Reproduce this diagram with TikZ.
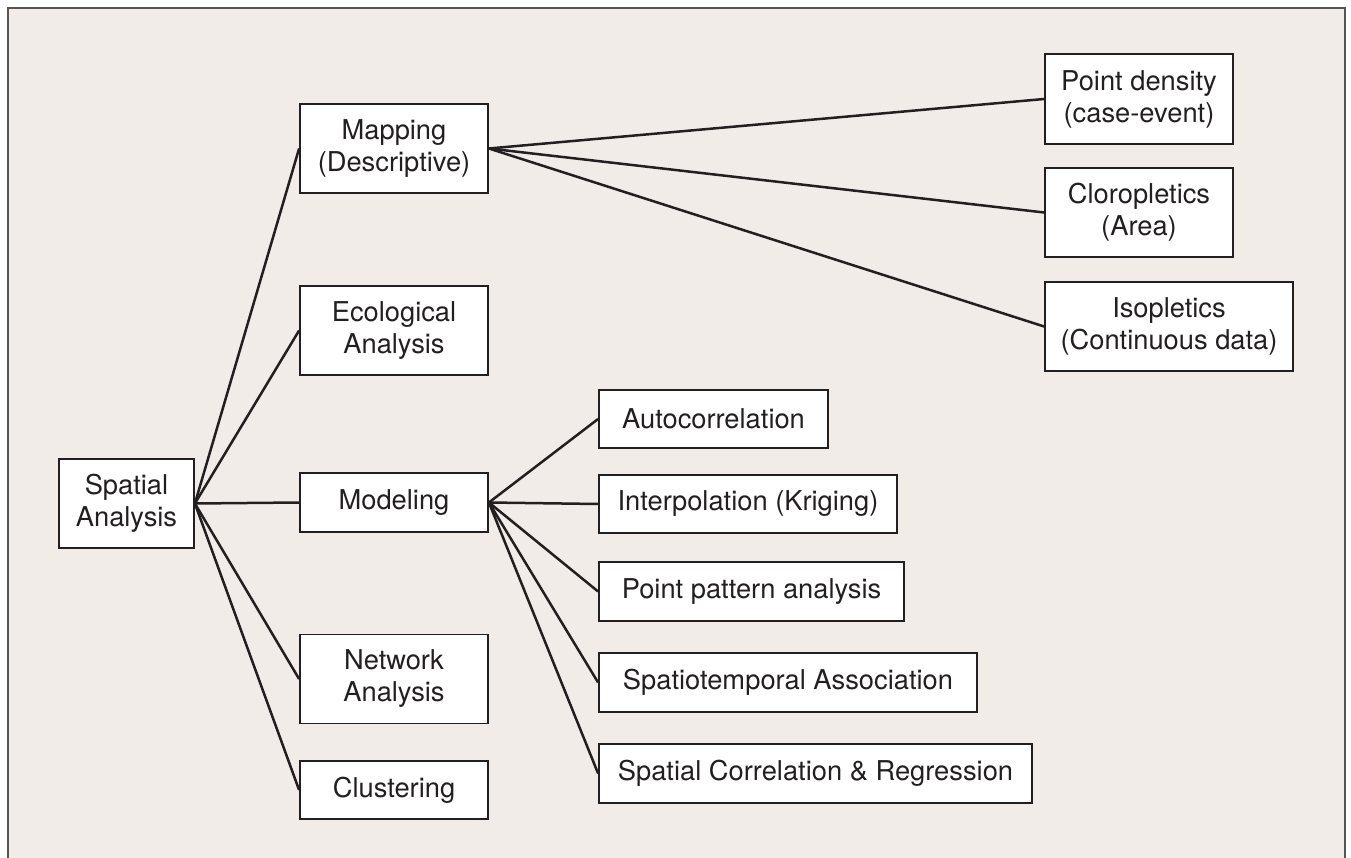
\documentclass[tikz,border=0pt]{standalone}
\usepackage{fontspec}
\setmainfont{TeX Gyre Heros}
\definecolor{bgfill}{HTML}{F1ECE8}
\definecolor{framec}{HTML}{555555}
\definecolor{inkc}{HTML}{231F20}
\begin{document}
\begin{tikzpicture}[x=1pt,y=-1pt,
  box/.style={draw=inkc,line width=1.8pt,fill=white,inner sep=0pt,align=center,
    text=inkc,font=\fontsize{27.3}{32}\selectfont,minimum height=59pt},
  tall/.style={minimum height=89pt},
  conn/.style={draw=inkc,line width=2.5pt}]
\useasboundingbox (0,0) rectangle (1351,858);
\fill[bgfill] (7.5,8) rectangle (1344.5,858);
\draw[framec,line width=2pt] (7.5,858) -- (7.5,8) -- (1344.5,8) -- (1344.5,858);
% level 1
\node[box,tall,minimum width=135pt] (sa) at (126.5,503.5) {Spatial\\Analysis};
% level 2
\node[box,tall,minimum width=188pt] (map) at (394,148.5) {Mapping\\(Descriptive)};
\node[box,tall,minimum width=188pt] (eco) at (394,330.5) {Ecological\\Analysis};
\node[box,minimum width=188pt] (mod) at (394,502.5) {Modeling};
\node[box,tall,minimum width=188pt] (net) at (394,679) {Network\\Analysis};
\node[box,minimum width=188pt,minimum height=58pt] (clu) at (394,790) {Clustering};
% mapping children
\node[box,tall,minimum width=188pt,minimum height=90pt] (pd) at (1139,99) {Point density\\(case-event)};
\node[box,tall,minimum width=188pt] (clo) at (1139,212.5) {Cloropletics\\(Area)};
\node[box,tall,minimum width=248pt] (iso) at (1169,326.5) {Isopletics\\(Continuous data)};
% modeling children
\node[box,minimum width=229pt,minimum height=58pt] (auto) at (713.5,419) {Autocorrelation};
\node[box,minimum width=298pt,minimum height=58pt] (interp) at (748,504) {Interpolation (Kriging)};
\node[box,minimum width=305pt] (ppa) at (751.5,591.5) {Point pattern analysis};
\node[box,minimum width=378pt] (st) at (788,682.5) {Spatiotemporal Association};
\node[box,minimum width=433pt] (scr) at (815.5,773.5) {Spatial Correlation \& Regression};
% connectors
\foreach \t in {map,eco,mod,net,clu} \draw[conn] (sa.east) -- (\t.west);
\foreach \t in {pd,clo,iso} \draw[conn] (map.east) -- (\t.west);
\foreach \t in {auto,interp,ppa,st,scr} \draw[conn] (mod.east) -- (\t.west);
\end{tikzpicture}
\end{document}
